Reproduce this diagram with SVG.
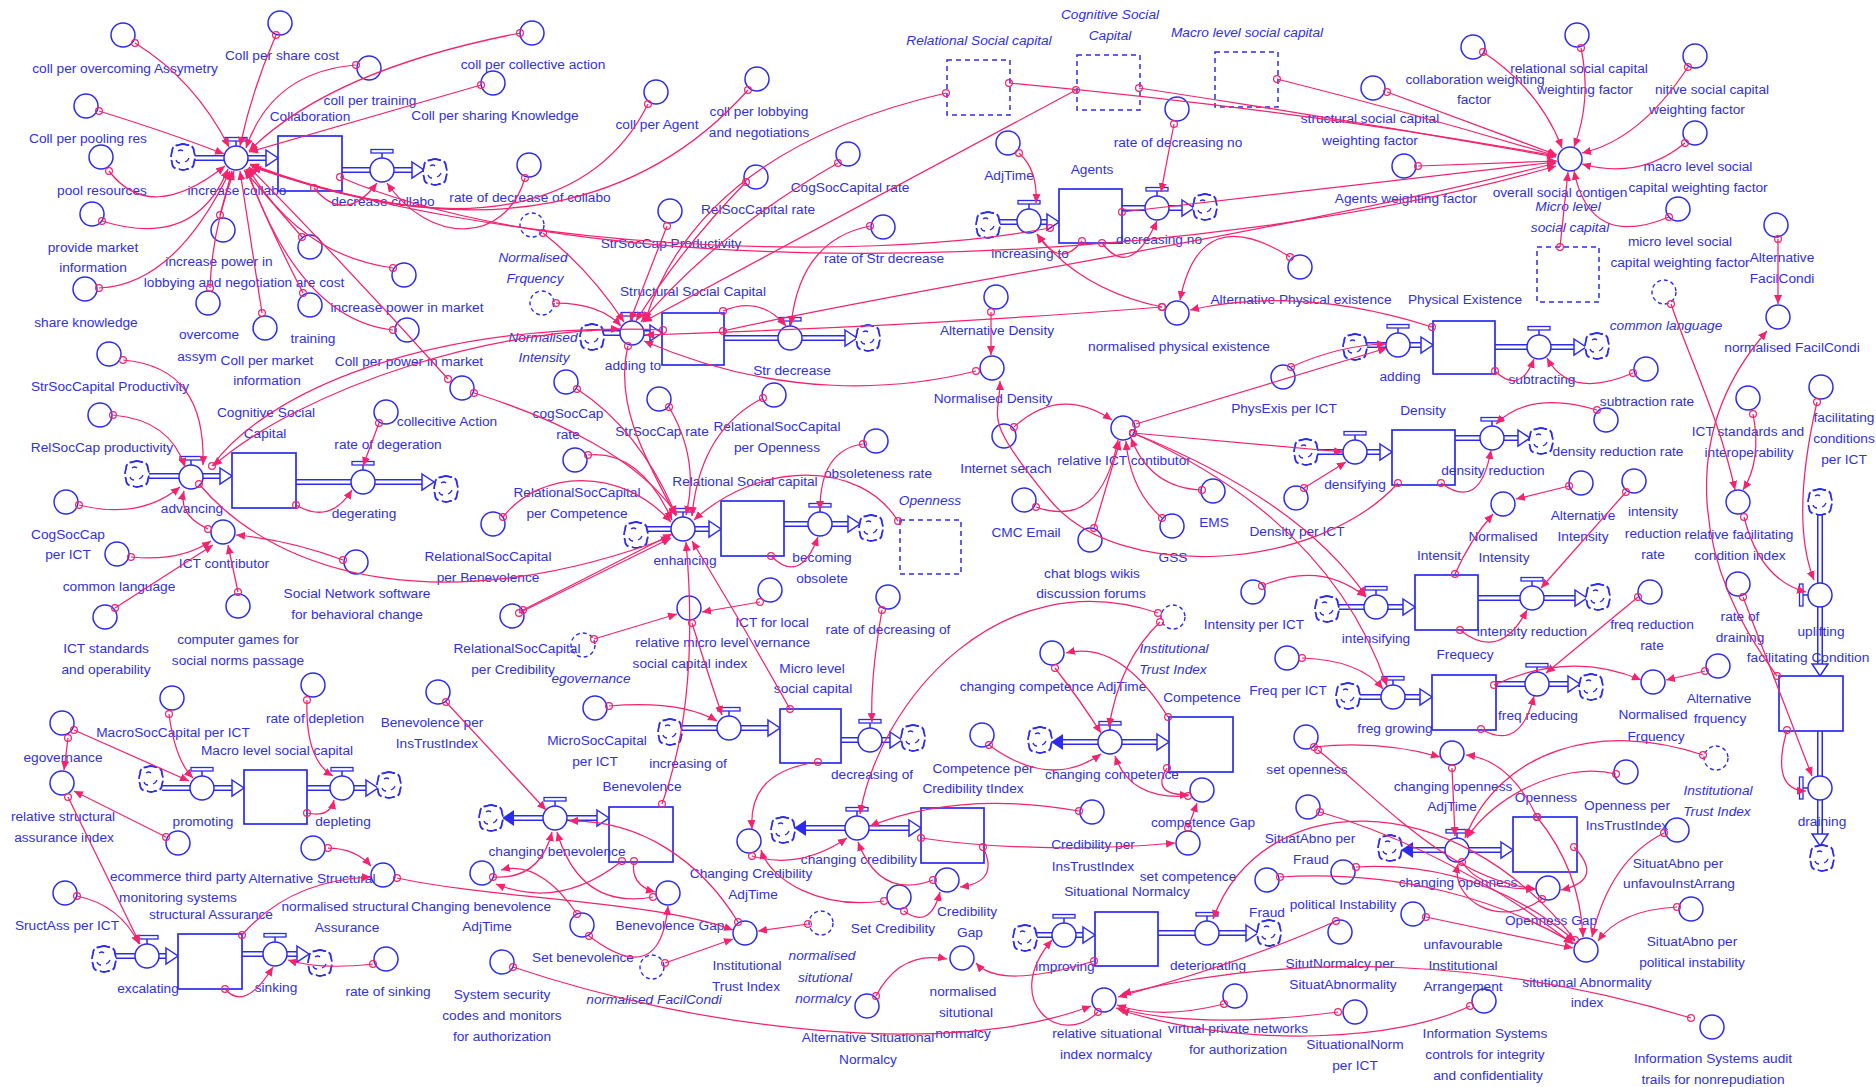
<svg xmlns="http://www.w3.org/2000/svg" width="1876" height="1087" viewBox="0 0 1876 1087">
<style>
.t{font-family:"Liberation Sans",Arial,sans-serif;font-size:13.7px;fill:#3030e2;text-anchor:middle}
.i{font-style:italic}
.c{fill:none;stroke:#2b2bf0;stroke-width:1.5}
.dc{fill:none;stroke:#2b2bf0;stroke-width:1.4;stroke-dasharray:4 3}
.s{fill:#fff;stroke:#2b2bf0;stroke-width:1.7}
.ds{fill:none;stroke:#2b2bf0;stroke-width:1.5;stroke-dasharray:5 4}
.po{stroke:#2b2bf0;stroke-width:6;fill:none}
.pi{stroke:#fff;stroke-width:3;fill:none}
.k path{fill:none;stroke:#f5226e;stroke-width:1.25;marker-start:url(#dt);marker-end:url(#ar)}
</style>
<defs>
<marker id="ar" viewBox="0 0 10 10" refX="10" refY="5" markerWidth="9" markerHeight="9" orient="auto" markerUnits="userSpaceOnUse"><path d="M0,0.5 L10,5 L0,9.5 z" fill="#f5226e"/></marker>
<marker id="dt" viewBox="-6 -6 12 12" refX="0" refY="0" markerWidth="12" markerHeight="12" markerUnits="userSpaceOnUse"><circle r="3.4" fill="none" stroke="#f5226e" stroke-width="1.2"/></marker>
<g id="cl"><path d="M-4,-12 Q0,-14 4,-12 Q11,-12 11,-5 Q13,0 11,5 Q11,12 4,12 Q0,14 -4,12 Q-11,12 -11,5 Q-13,0 -11,-5 Q-11,-12 -4,-12 z" fill="#fff" stroke="#2b2bf0" stroke-width="1.8" stroke-dasharray="10 3"/><path d="M-5,-6 q3,-2 5,0 M6,1 q-1,3 -4,4 M-7,3 q1,3 4,3" fill="none" stroke="#2b2bf0" stroke-width="1.3"/></g>
<g id="vh"><circle r="12" fill="#fff" stroke="#2b2bf0" stroke-width="1.5"/><path d="M0,-12 V-17" stroke="#2b2bf0" stroke-width="1.5"/><rect x="-11" y="-20.5" width="22" height="3.5" fill="#fff" stroke="#2b2bf0" stroke-width="1.3"/></g>
<g id="vv"><circle r="12" fill="#fff" stroke="#2b2bf0" stroke-width="1.5"/><path d="M-12,0 H-17" stroke="#2b2bf0" stroke-width="1.5"/><rect x="-20.5" y="-11" width="3.5" height="22" fill="#fff" stroke="#2b2bf0" stroke-width="1.3"/></g>
<path id="oa" d="M-12,-8 L0,0 L-12,8 z" fill="#fff" stroke="#2b2bf0" stroke-width="1.5"/>
<path id="fa" d="M0,0 L12,-8 L12,8 z" fill="#2b2bf0"/>
</defs>
<rect width="1876" height="1087" fill="#fff"/>

<g id="flows">
<g class="po"><g id="pipes">
<path d="M194 158H268"/><path d="M342 170H414"/><path d="M603 333H650"/><path d="M724 338H845"/>
<path d="M999 222H1047"/><path d="M1122 208H1182"/><path d="M1366 345H1421"/><path d="M1495 347H1574"/>
<path d="M148 476H220"/><path d="M296 482H422"/><path d="M647 529H709"/><path d="M784 524H848"/>
<path d="M1317 452H1380"/><path d="M1455 438H1518"/><path d="M1338 607H1403"/><path d="M1478 598H1575"/>
<path d="M1359 697H1420"/><path d="M1496 684H1568"/><path d="M1820 514V664"/><path d="M1820 731V834"/>
<path d="M162 788H232"/><path d="M307 788H366"/><path d="M115 956H166"/><path d="M242 954H297"/>
<path d="M681 728H768"/><path d="M841 740H890"/><path d="M514 818H597"/><path d="M806 828H909"/>
<path d="M1063 742H1157"/><path d="M1413 850H1501"/><path d="M1036 935H1083"/><path d="M1158 933H1246"/>
</g></g>
<use href="#pipes" class="pi"/>
<use href="#oa" transform="translate(278,158)"/><use href="#oa" transform="translate(424,170)"/>
<use href="#oa" transform="translate(662,333)"/><use href="#oa" transform="translate(857,338)"/>
<use href="#oa" transform="translate(1059,222)"/><use href="#oa" transform="translate(1194,208)"/>
<use href="#oa" transform="translate(1433,345)"/><use href="#oa" transform="translate(1586,347)"/>
<use href="#oa" transform="translate(232,476)"/><use href="#oa" transform="translate(434,482)"/>
<use href="#oa" transform="translate(721,529)"/><use href="#oa" transform="translate(860,524)"/>
<use href="#oa" transform="translate(1392,452)"/><use href="#oa" transform="translate(1530,438)"/>
<use href="#oa" transform="translate(1415,607)"/><use href="#oa" transform="translate(1587,598)"/>
<use href="#oa" transform="translate(1432,697)"/><use href="#oa" transform="translate(1580,684)"/>
<use href="#oa" transform="translate(1820,676) rotate(90)"/><use href="#oa" transform="translate(1820,846) rotate(90)"/>
<use href="#oa" transform="translate(244,788)"/><use href="#oa" transform="translate(378,788)"/>
<use href="#oa" transform="translate(178,956)"/><use href="#oa" transform="translate(309,954)"/>
<use href="#oa" transform="translate(780,728)"/><use href="#oa" transform="translate(902,740)"/>
<use href="#oa" transform="translate(609,818)"/><use href="#oa" transform="translate(921,828)"/>
<use href="#oa" transform="translate(1169,742)"/><use href="#oa" transform="translate(1513,850)"/>
<use href="#oa" transform="translate(1095,935)"/><use href="#oa" transform="translate(1258,933)"/>
<use href="#fa" transform="translate(502,818)"/><use href="#fa" transform="translate(794,828)"/>
<use href="#fa" transform="translate(1051,742)"/><use href="#fa" transform="translate(1401,850)"/>
<use href="#cl" x="183" y="157"/><use href="#cl" x="435" y="172"/><use href="#cl" x="592" y="337"/><use href="#cl" x="868" y="338"/>
<use href="#cl" x="988" y="225"/><use href="#cl" x="1205" y="207"/><use href="#cl" x="1355" y="347"/><use href="#cl" x="1597" y="346"/>
<use href="#cl" x="137" y="474"/><use href="#cl" x="446" y="489"/><use href="#cl" x="636" y="535"/><use href="#cl" x="871" y="528"/>
<use href="#cl" x="1306" y="452"/><use href="#cl" x="1541" y="441"/><use href="#cl" x="1327" y="609"/><use href="#cl" x="1598" y="597"/>
<use href="#cl" x="1348" y="696"/><use href="#cl" x="1591" y="687"/><use href="#cl" x="1820" y="502"/><use href="#cl" x="1822" y="858"/>
<use href="#cl" x="151" y="779"/><use href="#cl" x="389" y="785"/><use href="#cl" x="104" y="959"/><use href="#cl" x="320" y="963"/>
<use href="#cl" x="670" y="732"/><use href="#cl" x="913" y="738"/><use href="#cl" x="491" y="818"/><use href="#cl" x="783" y="830"/>
<use href="#cl" x="1040" y="740"/><use href="#cl" x="1390" y="848"/><use href="#cl" x="1025" y="938"/><use href="#cl" x="1269" y="933"/>
</g>

<!-- stocks -->
<g id="s_collaboration"><rect class="s" x="278" y="136" width="64" height="55"/><text class="t" x="310" y="121">Collaboration</text></g>
<g id="s_structural"><rect class="s" x="662" y="313" width="62" height="52"/><text class="t" x="693" y="296">Structural Social Capital</text></g>
<g id="s_agents"><rect class="s" x="1059" y="189" width="63" height="54"/><text class="t" x="1092" y="174">Agents</text></g>
<g id="s_physical"><rect class="s" x="1433" y="321" width="62" height="53"/><text class="t" x="1465" y="304">Physical Existence</text></g>
<g id="s_cognitive"><rect class="s" x="232" y="453" width="64" height="55"/><text class="t" x="266" y="417">Cognitive Social<tspan x="265" dy="21">Capital</tspan></text></g>
<g id="s_relational"><rect class="s" x="721" y="501" width="63" height="55"/><text class="t" x="745" y="486">Relational Social capital</text></g>
<g id="s_density"><rect class="s" x="1392" y="430" width="63" height="55"/><text class="t" x="1423" y="415">Density</text></g>
<g id="s_intensity"><rect class="s" x="1415" y="575" width="63" height="55"/><text class="t" x="1439" y="560">Intensit</text></g>
<g id="s_frequecy"><rect class="s" x="1432" y="675" width="64" height="55"/><text class="t" x="1465" y="659">Frequecy</text></g>
<g id="s_facilitating"><rect class="s" x="1779" y="676" width="64" height="55"/><text class="t" x="1808" y="662">facilitating Condition</text></g>
<g id="s_macro"><rect class="s" x="244" y="770" width="63" height="54"/><text class="t" x="277" y="755">Macro level social capital</text></g>
<g id="s_structassur"><rect class="s" x="178" y="934" width="64" height="55"/><text class="t" x="211" y="919">structural Assurance</text></g>
<g id="s_micro"><rect class="s" x="780" y="709" width="61" height="54"/><text class="t" x="812" y="673">Micro level<tspan x="813" dy="20">social capital</tspan></text></g>
<g id="s_benevolence"><rect class="s" x="609" y="807" width="64" height="55"/><text class="t" x="642" y="791">Benevolence</text></g>
<g id="s_credibility"><rect class="s" x="921" y="808" width="63" height="55"/></g>
<g id="s_competence"><rect class="s" x="1169" y="717" width="64" height="55"/><text class="t" x="1202" y="702">Competence</text></g>
<g id="s_openness"><rect class="s" x="1513" y="817" width="64" height="55"/><text class="t" x="1546" y="802">Openness</text></g>
<g id="s_situational"><rect class="s" x="1095" y="912" width="63" height="54"/><text class="t" x="1127" y="896">Situational Normalcy</text></g>

<!-- shadow stocks -->
<g id="sh_relational"><rect class="ds" x="947" y="60" width="63" height="55"/><text class="t i" x="979" y="45">Relational Social capital</text></g>
<g id="sh_cognitive"><rect class="ds" x="1077" y="55" width="63" height="55"/><text class="t i" x="1110" y="19">Cognitive Social<tspan x="1110" dy="21">Capital</tspan></text></g>
<g id="sh_macro"><rect class="ds" x="1215" y="52" width="63" height="55"/><text class="t i" x="1247" y="37">Macro level social capital</text></g>
<g id="sh_micro"><rect class="ds" x="1537" y="247" width="62" height="55"/><text class="t i" x="1568" y="211">Micro level<tspan x="1570" dy="21">social capital</tspan></text></g>
<g id="sh_openness"><rect class="ds" x="900" y="520" width="61" height="54"/><text class="t i" x="930" y="505">Openness</text></g>

<!-- valves -->
<g id="v_increase_collabo"><use href="#vh" x="236" y="158"/><text class="t" x="237" y="195">increase collabo</text></g>
<g id="v_decrease_collabo"><use href="#vh" x="382" y="170"/><text class="t" x="383" y="206">decrease collabo</text></g>
<g id="v_adding_to"><use href="#vh" x="632" y="333"/><text class="t" x="633" y="370">adding to</text></g>
<g id="v_str_decrease"><use href="#vh" x="790" y="338"/><text class="t" x="792" y="375">Str decrease</text></g>
<g id="v_increasing_to"><use href="#vh" x="1029" y="221"/><text class="t" x="1030" y="258">increasing to</text></g>
<g id="v_decreasing_no"><use href="#vh" x="1157" y="208"/><text class="t" x="1159" y="244">decreasing no</text></g>
<g id="v_adding"><use href="#vh" x="1398" y="345"/><text class="t" x="1400" y="381">adding</text></g>
<g id="v_subtracting"><use href="#vh" x="1539" y="347"/><text class="t" x="1542" y="384">subtracting</text></g>
<g id="v_advancing"><use href="#vh" x="191" y="477"/><text class="t" x="192" y="513">advancing</text></g>
<g id="v_degerating"><use href="#vh" x="363" y="482"/><text class="t" x="364" y="518">degerating</text></g>
<g id="v_enhancing"><use href="#vh" x="683" y="529"/><text class="t" x="685" y="565">enhancing</text></g>
<g id="v_becoming"><use href="#vh" x="820" y="524"/><text class="t" x="822" y="562">becoming<tspan x="822" dy="21">obsolete</tspan></text></g>
<g id="v_densifying"><use href="#vh" x="1355" y="452"/><text class="t" x="1355" y="489">densifying</text></g>
<g id="v_density_reduction"><use href="#vh" x="1492" y="438"/><text class="t" x="1493" y="475">density reduction</text></g>
<g id="v_intensifying"><use href="#vh" x="1376" y="607"/><text class="t" x="1376" y="643">intensifying</text></g>
<g id="v_intensity_reduction"><use href="#vh" x="1532" y="598"/><text class="t" x="1532" y="636">intensity reduction</text></g>
<g id="v_freg_growing"><use href="#vh" x="1393" y="697"/><text class="t" x="1395" y="733">freg growing</text></g>
<g id="v_freq_reducing"><use href="#vh" x="1537" y="684"/><text class="t" x="1538" y="720">freq reducing</text></g>
<g id="v_uplifting"><use href="#vv" x="1820" y="595"/><text class="t" x="1821" y="636">uplifting</text></g>
<g id="v_draining"><use href="#vv" x="1820" y="788"/><text class="t" x="1822" y="826">draining</text></g>
<g id="v_promoting"><use href="#vh" x="202" y="788"/><text class="t" x="203" y="826">promoting</text></g>
<g id="v_depleting"><use href="#vh" x="342" y="788"/><text class="t" x="343" y="826">depleting</text></g>
<g id="v_excalating"><use href="#vh" x="147" y="956"/><text class="t" x="148" y="993">excalating</text></g>
<g id="v_sinking"><use href="#vh" x="275" y="954"/><text class="t" x="276" y="992">sinking</text></g>
<g id="v_increasing_of"><use href="#vh" x="729" y="728"/><text class="t" x="688" y="768">increasing of</text></g>
<g id="v_decreasing_of"><use href="#vh" x="870" y="740"/><text class="t" x="872" y="779">decreasing of</text></g>
<g id="v_changing_benevolence"><use href="#vh" x="555" y="818"/><text class="t" x="557" y="856">changing benevolence</text></g>
<g id="v_changing_credibility"><use href="#vh" x="857" y="828"/><text class="t" x="859" y="864">changing credibility</text></g>
<g id="v_changing_competence"><use href="#vh" x="1110" y="742"/><text class="t" x="1112" y="779">changing competence</text></g>
<g id="v_changing_openness"><use href="#vh" x="1457" y="850"/><text class="t" x="1458" y="887">changing openness</text></g>
<g id="v_improving"><use href="#vh" x="1064" y="935"/><text class="t" x="1065" y="971">improving</text></g>
<g id="v_deteriorating"><use href="#vh" x="1207" y="933"/><text class="t" x="1208" y="970">deteriorating</text></g>

<!-- auxiliaries -->
<g id="n_coll_overcoming"><circle class="c" cx="123" cy="35" r="12"/><text class="t" x="125" y="73">coll per overcoming Assymetry</text></g>
<g id="n_coll_share_cost"><circle class="c" cx="280" cy="23" r="12"/><text class="t" x="282" y="60">Coll per share cost</text></g>
<g id="n_coll_training"><circle class="c" cx="369" cy="68" r="12"/><text class="t" x="370" y="105">coll per training</text></g>
<g id="n_coll_pooling"><circle class="c" cx="86" cy="106" r="12"/><text class="t" x="88" y="143">Coll per pooling res</text></g>
<g id="n_pool_resources"><circle class="c" cx="101" cy="157" r="12"/><text class="t" x="102" y="195">pool resources</text></g>
<g id="n_provide_market"><circle class="c" cx="92" cy="214" r="12"/><text class="t" x="93" y="252">provide market<tspan x="93" dy="20">information</tspan></text></g>
<g id="n_share_knowledge"><circle class="c" cx="85" cy="289" r="12"/><text class="t" x="86" y="327">share knowledge</text></g>
<g id="n_incr_power_lobby"><circle class="c" cx="223" cy="230" r="12"/><text class="t" x="219" y="266">increase power in<tspan x="218" dy="21">lobbying and negotiation</tspan></text></g>
<g id="n_share_cost"><circle class="c" cx="310" cy="247" r="12"/><text class="t" x="320" y="287">are cost</text></g>
<g id="n_overcome_assym"><circle class="c" cx="208" cy="303" r="12"/><text class="t" x="209" y="339">overcome<tspan x="197" dy="22">assym</tspan></text></g>
<g id="n_training"><circle class="c" cx="310" cy="305" r="12"/><text class="t" x="313" y="343">training</text></g>
<g id="n_coll_market_info"><circle class="c" cx="265" cy="328" r="12"/><text class="t" x="267" y="365">Coll per market<tspan x="267" dy="20">information</tspan></text></g>
<g id="n_incr_power_market"><circle class="c" cx="404" cy="275" r="12"/><text class="t" x="407" y="312">increase power in market</text></g>
<g id="n_coll_power_market"><circle class="c" cx="407" cy="330" r="12"/><text class="t" x="409" y="366">Coll per power in market</text></g>
<g id="n_collecitive_action"><circle class="c" cx="462" cy="388" r="12"/><text class="t" x="447" y="426">collecitive Action</text></g>
<g id="n_coll_collective"><circle class="c" cx="532" cy="33" r="12"/><text class="t" x="533" y="69">coll per collective action</text></g>
<g id="n_coll_sharing"><circle class="c" cx="493" cy="83" r="12"/><text class="t" x="495" y="120">Coll per sharing Knowledge</text></g>
<g id="n_coll_agent"><circle class="c" cx="656" cy="92" r="12"/><text class="t" x="657" y="129">coll per Agent</text></g>
<g id="n_coll_lobbying"><circle class="c" cx="757" cy="79" r="12"/><text class="t" x="759" y="116">coll per lobbying<tspan x="759" dy="21">and negotiations</tspan></text></g>
<g id="n_rate_decr_collabo"><circle class="c" cx="529" cy="165" r="12"/><text class="t" x="530" y="202">rate of decrease of collabo</text></g>
<g id="n_norm_frquency_sh"><circle class="dc" cx="532" cy="225" r="12"/><text class="t i" x="533" y="262">Normalised<tspan x="535" dy="21">Frquency</tspan></text></g>
<g id="n_strsoccap_prod"><circle class="c" cx="670" cy="211" r="12"/><text class="t" x="671" y="248">StrSocCap Productivity</text></g>
<g id="n_relsoccap_rate"><circle class="c" cx="756" cy="177" r="12"/><text class="t" x="758" y="214">RelSocCapital rate</text></g>
<g id="n_cogsoccap_rate"><circle class="c" cx="848" cy="154" r="12"/><text class="t" x="850" y="192">CogSocCapital rate</text></g>
<g id="n_rate_str_decrease"><circle class="c" cx="883" cy="227" r="12"/><text class="t" x="884" y="263">rate of Str decrease</text></g>
<g id="n_norm_intensity_sh"><circle class="dc" cx="542" cy="303" r="12"/><text class="t i" x="543" y="342">Normalised<tspan x="544" dy="20">Intensity</tspan></text></g>
<g id="n_rate_decr_no"><circle class="c" cx="1177" cy="109" r="12"/><text class="t" x="1178" y="147">rate of decreasing no</text></g>
<g id="n_adjtime"><circle class="c" cx="1008" cy="143" r="12"/><text class="t" x="1009" y="180">AdjTime</text></g>
<g id="n_alt_phys"><circle class="c" cx="1300" cy="267" r="12"/><text class="t" x="1301" y="304">Alternative Physical existence</text></g>
<g id="n_norm_phys"><circle class="c" cx="1177" cy="313" r="12"/><text class="t" x="1179" y="351">normalised physical existence</text></g>
<g id="n_alt_density"><circle class="c" cx="996" cy="297" r="12"/><text class="t" x="997" y="335">Alternative Density</text></g>
<g id="n_norm_density"><circle class="c" cx="992" cy="368" r="12"/><text class="t" x="993" y="403">Normalised Density</text></g>
<g id="n_collab_weight"><circle class="c" cx="1473" cy="47" r="12"/><text class="t" x="1475" y="84">collaboration weighting<tspan x="1474" dy="20">factor</tspan></text></g>
<g id="n_rel_weight"><circle class="c" cx="1577" cy="35" r="12"/><text class="t" x="1579" y="73">relational social capital<tspan x="1585" dy="21">weighting factor</tspan></text></g>
<g id="n_cog_weight"><circle class="c" cx="1695" cy="56" r="12"/><text class="t" x="1712" y="94">nitive social capital<tspan x="1697" dy="20">weighting factor</tspan></text></g>
<g id="n_overall"><circle class="c" cx="1570" cy="159" r="12"/><text class="t" x="1560" y="197">overall social contigen</text></g>
<g id="n_macro_weight"><circle class="c" cx="1695" cy="133" r="12"/><text class="t" x="1698" y="171">macro level social<tspan x="1698" dy="21">capital weighting factor</tspan></text></g>
<g id="n_micro_weight"><circle class="c" cx="1678" cy="209" r="12"/><text class="t" x="1680" y="246">micro level social<tspan x="1680" dy="21">capital weighting factor</tspan></text></g>
<g id="n_agents_weight"><circle class="c" cx="1404" cy="166" r="12"/><text class="t" x="1406" y="203">Agents weighting factor</text></g>
<g id="n_struct_weight"><circle class="c" cx="1373" cy="88" r="12"/><text class="t" x="1370" y="123">structural social capital<tspan x="1370" dy="22">weighting factor</tspan></text></g>
<g id="n_alt_facil"><circle class="c" cx="1776" cy="225" r="12"/><text class="t" x="1782" y="262">Alternative<tspan x="1782" dy="21">FacilCondi</tspan></text></g>
<g id="n_norm_facil"><circle class="c" cx="1778" cy="317" r="12"/><text class="t" x="1792" y="352">normalised FacilCondi</text></g>
<g id="n_common_lang_sh"><circle class="dc" cx="1664" cy="292" r="12"/><text class="t i" x="1666" y="330">common language</text></g>
<g id="n_physexis_ict"><circle class="c" cx="1283" cy="377" r="12"/><text class="t" x="1284" y="413">PhysExis per ICT</text></g>
<g id="n_rel_ict"><circle class="c" cx="1123" cy="428" r="12"/><text class="t" x="1124" y="465">relative ICT contibutor</text></g>
<g id="n_internet"><circle class="c" cx="1004" cy="436" r="12"/><text class="t" x="1006" y="473">Internet serach</text></g>
<g id="n_cmc"><circle class="c" cx="1024" cy="500" r="12"/><text class="t" x="1026" y="537">CMC Email</text></g>
<g id="n_chat"><circle class="c" cx="1090" cy="540" r="12"/><text class="t" x="1092" y="578">chat blogs wikis<tspan x="1091" dy="20">discussion forums</tspan></text></g>
<g id="n_gss"><circle class="c" cx="1172" cy="526" r="12"/><text class="t" x="1173" y="562">GSS</text></g>
<g id="n_ems"><circle class="c" cx="1213" cy="491" r="12"/><text class="t" x="1214" y="527">EMS</text></g>
<g id="n_density_ict"><circle class="c" cx="1296" cy="498" r="12"/><text class="t" x="1297" y="536">Density per ICT</text></g>
<g id="n_intensity_ict"><circle class="c" cx="1253" cy="592" r="12"/><text class="t" x="1254" y="629">Intensity per ICT</text></g>
<g id="n_freq_ict"><circle class="c" cx="1287" cy="658" r="12"/><text class="t" x="1288" y="695">Freq per ICT</text></g>
<g id="n_subtraction_rate"><circle class="c" cx="1646" cy="369" r="12"/><text class="t" x="1647" y="406">subtraction rate</text></g>
<g id="n_density_red_rate"><circle class="c" cx="1606" cy="420" r="12"/><text class="t" x="1618" y="456">density reduction rate</text></g>
<g id="n_norm_intensity"><circle class="c" cx="1503" cy="504" r="12"/><text class="t" x="1503" y="541">Normalised<tspan x="1504" dy="21">Intensity</tspan></text></g>
<g id="n_alt_intensity"><circle class="c" cx="1581" cy="483" r="12"/><text class="t" x="1583" y="520">Alternative<tspan x="1583" dy="21">Intensity</tspan></text></g>
<g id="n_int_red_rate"><circle class="c" cx="1634" cy="481" r="12"/><text class="t" x="1653" y="516">intensity<tspan x="1653" dy="22">reduction</tspan><tspan x="1653" dy="21">rate</tspan></text></g>
<g id="n_freq_red_rate"><circle class="c" cx="1650" cy="592" r="12"/><text class="t" x="1652" y="629">freq reduction<tspan x="1652" dy="21">rate</tspan></text></g>
<g id="n_norm_frq"><circle class="c" cx="1653" cy="682" r="12"/><text class="t" x="1653" y="719">Normalised<tspan x="1656" dy="22">Frquency</tspan></text></g>
<g id="n_alt_frq"><circle class="c" cx="1718" cy="666" r="12"/><text class="t" x="1719" y="703">Alternative<tspan x="1720" dy="20">frquency</tspan></text></g>
<g id="n_ict_std_interop"><circle class="c" cx="1748" cy="398" r="12"/><text class="t" x="1748" y="436">ICT standards and<tspan x="1749" dy="21">interoperability</tspan></text></g>
<g id="n_rel_facil"><circle class="c" cx="1738" cy="502" r="12"/><text class="t" x="1739" y="539">relative facilitating<tspan x="1740" dy="21">condition index</tspan></text></g>
<g id="n_rate_draining"><circle class="c" cx="1738" cy="584" r="12"/><text class="t" x="1740" y="621">rate of<tspan x="1740" dy="21">draining</tspan></text></g>
<g id="n_facil_ict"><circle class="c" cx="1821" cy="387" r="12"/><text class="t" x="1844" y="422">facilitating<tspan x="1844" dy="21">conditions</tspan><tspan x="1844" dy="21">per ICT</tspan></text></g>
<g id="n_strsoccapital_prod"><circle class="c" cx="109" cy="354" r="12"/><text class="t" x="110" y="391">StrSocCapital Productivity</text></g>
<g id="n_relsoccap_prod"><circle class="c" cx="100" cy="415" r="12"/><text class="t" x="102" y="452">RelSocCap productivity</text></g>
<g id="n_cogsoccap_ict"><circle class="c" cx="66" cy="502" r="12"/><text class="t" x="68" y="539">CogSocCap<tspan x="68" dy="20">per ICT</tspan></text></g>
<g id="n_common_lang"><circle class="c" cx="117" cy="554" r="12"/><text class="t" x="119" y="591">common language</text></g>
<g id="n_ict_std_oper"><circle class="c" cx="105" cy="617" r="12"/><text class="t" x="106" y="653">ICT standards<tspan x="106" dy="21">and operability</tspan></text></g>
<g id="n_ict_contributor"><circle class="c" cx="223" cy="532" r="12"/><text class="t" x="224" y="568">ICT contributor</text></g>
<g id="n_computer_games"><circle class="c" cx="238" cy="606" r="12"/><text class="t" x="238" y="644">computer games for<tspan x="238" dy="21">social norms passage</tspan></text></g>
<g id="n_social_network"><circle class="c" cx="356" cy="562" r="12"/><text class="t" x="357" y="598">Social Network software<tspan x="357" dy="21">for behavioral change</tspan></text></g>
<g id="n_rate_degeration"><circle class="c" cx="386" cy="412" r="12"/><text class="t" x="388" y="449">rate of degeration</text></g>
<g id="n_cogsoccap_rate2"><circle class="c" cx="566" cy="382" r="12"/><text class="t" x="568" y="418">cogSocCap<tspan x="568" dy="21">rate</tspan></text></g>
<g id="n_strsoccap_rate"><circle class="c" cx="659" cy="399" r="12"/><text class="t" x="662" y="436">StrSocCap rate</text></g>
<g id="n_rel_openness"><circle class="c" cx="774" cy="395" r="12"/><text class="t" x="777" y="431">RelationalSocCapital<tspan x="777" dy="21">per Openness</tspan></text></g>
<g id="n_rel_competence"><circle class="c" cx="575" cy="460" r="12"/><text class="t" x="577" y="497">RelationalSocCapital<tspan x="577" dy="21">per Competence</tspan></text></g>
<g id="n_rel_benevolence"><circle class="c" cx="493" cy="524" r="12"/><text class="t" x="488" y="561">RelationalSocCapital<tspan x="488" dy="21">per Benevolence</tspan></text></g>
<g id="n_obsoleteness"><circle class="c" cx="876" cy="441" r="12"/><text class="t" x="878" y="478">obsoleteness rate</text></g>
<g id="n_rel_credibility"><circle class="c" cx="512" cy="616" r="12"/><text class="t" x="517" y="653">RelationalSocCapital<tspan x="513" dy="21">per Credibility</tspan></text></g>
<g id="n_egov_sh"><circle class="dc" cx="583" cy="645" r="12"/><text class="t i" x="591" y="683">egovernance</text></g>
<g id="n_rel_micro"><circle class="c" cx="689" cy="608" r="12"/><text class="t" x="692" y="647">relative micro level<tspan x="690" dy="21">social capital index</tspan></text></g>
<g id="n_ict_local"><circle class="c" cx="770" cy="590" r="12"/><text class="t" x="772" y="627">ICT for local<tspan x="782" dy="20">vernance</tspan></text></g>
<g id="n_rate_decr_of"><circle class="c" cx="888" cy="597" r="12"/><text class="t" x="888" y="634">rate of decreasing of</text></g>
<g id="n_microsoc_ict"><circle class="c" cx="595" cy="708" r="12"/><text class="t" x="597" y="745">MicroSocCapital<tspan x="595" dy="21">per ICT</tspan></text></g>
<g id="n_benev_ins"><circle class="c" cx="438" cy="692" r="12"/><text class="t" x="432" y="727">Benevolence per<tspan x="437" dy="21">InsTrustIndex</tspan></text></g>
<g id="n_rate_depletion"><circle class="c" cx="313" cy="685" r="12"/><text class="t" x="315" y="723">rate of depletion</text></g>
<g id="n_macrosoc_ict"><circle class="c" cx="172" cy="698" r="12"/><text class="t" x="173" y="737">MacroSocCapital per ICT</text></g>
<g id="n_egovernance"><circle class="c" cx="62" cy="723" r="12"/><text class="t" x="63" y="762">egovernance</text></g>
<g id="n_rel_struct_assur"><circle class="c" cx="62" cy="783" r="12"/><text class="t" x="63" y="821">relative structural<tspan x="64" dy="21">assurance index</tspan></text></g>
<g id="n_ecommerce"><circle class="c" cx="178" cy="843" r="12"/><text class="t" x="178" y="881">ecommerce third party<tspan x="178" dy="21">monitoring systems</tspan></text></g>
<g id="n_structass_ict"><circle class="c" cx="65" cy="893" r="12"/><text class="t" x="67" y="930">SructAss per ICT</text></g>
<g id="n_rate_sinking"><circle class="c" cx="386" cy="959" r="12"/><text class="t" x="388" y="996">rate of sinking</text></g>
<g id="n_alt_structural"><circle class="c" cx="313" cy="848" r="12"/><text class="t" x="312" y="883">Alternative Structural</text></g>
<g id="n_norm_structural"><circle class="c" cx="383" cy="875" r="12"/><text class="t" x="345" y="911">normalised structural<tspan x="347" dy="21">Assurance</tspan></text></g>
<g id="n_chg_benev_adj"><circle class="c" cx="482" cy="873" r="12"/><text class="t" x="481" y="911">Changing benevolence<tspan x="487" dy="20">AdjTime</tspan></text></g>
<g id="n_set_benev"><circle class="c" cx="582" cy="925" r="12"/><text class="t" x="583" y="962">Set benevolence</text></g>
<g id="n_benev_gap"><circle class="c" cx="668" cy="893" r="12"/><text class="t" x="670" y="930">Benevolence Gap</text></g>
<g id="n_norm_facil_sh"><circle class="dc" cx="652" cy="967" r="12"/><text class="t i" x="654" y="1004">normalised FacilCondi</text></g>
<g id="n_iti"><circle class="c" cx="745" cy="933" r="12"/><text class="t" x="747" y="970">Institutional<tspan x="746" dy="21">Trust Index</tspan></text></g>
<g id="n_norm_sit_sh"><circle class="dc" cx="821" cy="923" r="12"/><text class="t i" x="822" y="960">normalised<tspan x="825" dy="22">situtional</tspan><tspan x="823" dy="21">normalcy</tspan></text></g>
<g id="n_sys_security"><circle class="c" cx="502" cy="962" r="12"/><text class="t" x="502" y="999">System security<tspan x="502" dy="21">codes and monitors</tspan><tspan x="502" dy="21">for authorization</tspan></text></g>
<g id="n_chg_cred_adj"><circle class="c" cx="749" cy="841" r="12"/><text class="t" x="751" y="878">Changing Credibility<tspan x="753" dy="21">AdjTime</tspan></text></g>
<g id="n_set_cred"><circle class="c" cx="899" cy="897" r="12"/><text class="t" x="893" y="933">Set Credibility</text></g>
<g id="n_alt_sit"><circle class="c" cx="867" cy="1006" r="12"/><text class="t" x="868" y="1042">Alternative Situational<tspan x="868" dy="22">Normalcy</tspan></text></g>
<g id="n_comp_cred"><circle class="c" cx="982" cy="735" r="12"/><text class="t" x="983" y="773">Competence per<tspan x="973" dy="20">Credibility tIndex</tspan></text></g>
<g id="n_chg_comp_adj"><circle class="c" cx="1052" cy="653" r="12"/><text class="t" x="1053" y="691">changing competence AdjTime</text></g>
<g id="n_iti_sh1"><circle class="dc" cx="1173" cy="617" r="12"/><text class="t i" x="1174" y="653">Institutional<tspan x="1173" dy="21">Trust Index</tspan></text></g>
<g id="n_comp_gap"><circle class="c" cx="1202" cy="790" r="12"/><text class="t" x="1203" y="827">competence Gap</text></g>
<g id="n_cred_ins"><circle class="c" cx="1092" cy="812" r="12"/><text class="t" x="1093" y="849">Credibility per<tspan x="1093" dy="22">InsTrustIndex</tspan></text></g>
<g id="n_set_comp"><circle class="c" cx="1188" cy="843" r="12"/><text class="t" x="1188" y="881">set competence</text></g>
<g id="n_cred_gap"><circle class="c" cx="947" cy="880" r="12"/><text class="t" x="967" y="916">Credibility<tspan x="970" dy="21">Gap</tspan></text></g>
<g id="n_norm_sit"><circle class="c" cx="962" cy="958" r="12"/><text class="t" x="963" y="996">normalised<tspan x="966" dy="21">situtional</tspan><tspan x="963" dy="21">normalcy</tspan></text></g>
<g id="n_rel_sit"><circle class="c" cx="1104" cy="1000" r="12"/><text class="t" x="1107" y="1038">relative situational<tspan x="1106" dy="21">index normalcy</tspan></text></g>
<g id="n_vpn"><circle class="c" cx="1235" cy="996" r="12"/><text class="t" x="1238" y="1033">virtual private networks<tspan x="1238" dy="21">for authorization</tspan></text></g>
<g id="n_sitnorm_ict"><circle class="c" cx="1355" cy="1012" r="12"/><text class="t" x="1355" y="1049">SituationalNorm<tspan x="1355" dy="21">per ICT</tspan></text></g>
<g id="n_set_open"><circle class="c" cx="1306" cy="737" r="12"/><text class="t" x="1307" y="774">set openness</text></g>
<g id="n_abno_fraud"><circle class="c" cx="1308" cy="807" r="12"/><text class="t" x="1310" y="843">SituatAbno per<tspan x="1311" dy="21">Fraud</tspan></text></g>
<g id="n_fraud"><circle class="c" cx="1267" cy="880" r="12"/><text class="t" x="1267" y="917">Fraud</text></g>
<g id="n_pol_instab"><circle class="c" cx="1343" cy="872" r="12"/><text class="t" x="1343" y="909">political Instability</text></g>
<g id="n_sitnorm_abno"><circle class="c" cx="1340" cy="932" r="12"/><text class="t" x="1340" y="968">SitutNormalcy per<tspan x="1343" dy="21">SituatAbnormality</tspan></text></g>
<g id="n_chg_open_adj"><circle class="c" cx="1452" cy="753" r="12"/><text class="t" x="1453" y="791">changing openness<tspan x="1452" dy="20">AdjTime</tspan></text></g>
<g id="n_iti_sh2"><circle class="dc" cx="1716" cy="758" r="12"/><text class="t i" x="1718" y="795">Institutional<tspan x="1717" dy="21">Trust Index</tspan></text></g>
<g id="n_open_ins"><circle class="c" cx="1626" cy="772" r="12"/><text class="t" x="1627" y="810">Openness per<tspan x="1627" dy="20">InsTrustIndex</tspan></text></g>
<g id="n_abno_unfav"><circle class="c" cx="1677" cy="830" r="12"/><text class="t" x="1678" y="868">SituatAbno per<tspan x="1679" dy="20">unfavouInstArrang</tspan></text></g>
<g id="n_open_gap"><circle class="c" cx="1548" cy="888" r="12"/><text class="t" x="1551" y="925">Openness Gap</text></g>
<g id="n_sit_abno_idx"><circle class="c" cx="1586" cy="950" r="12"/><text class="t" x="1587" y="987">situtional Abnormality<tspan x="1587" dy="20">index</tspan></text></g>
<g id="n_abno_pol"><circle class="c" cx="1691" cy="909" r="12"/><text class="t" x="1692" y="946">SituatAbno per<tspan x="1692" dy="21">political instability</tspan></text></g>
<g id="n_unfav"><circle class="c" cx="1413" cy="914" r="12"/><text class="t" x="1463" y="949">unfavourable<tspan x="1463" dy="21">Institutional</tspan><tspan x="1463" dy="21">Arrangement</tspan></text></g>
<g id="n_is_controls"><circle class="c" cx="1484" cy="1001" r="12"/><text class="t" x="1485" y="1038">Information Systems<tspan x="1485" dy="21">controls for integrity</tspan><tspan x="1488" dy="21">and confidentiality</tspan></text></g>
<g id="n_is_audit"><circle class="c" cx="1712" cy="1027" r="12"/><text class="t" x="1713" y="1063">Information Systems audit<tspan x="1713" dy="21">trails for nonrepudiation</tspan></text></g>

<g id="connectors" class="k">
<path d="M135 43 Q195 80 229 147"/><path d="M276 35 Q252 90 240 146"/><path d="M356 65 Q272 72 246 148"/>
<path d="M99 111 Q170 133 224 154"/><path d="M109 171 Q150 225 225 166"/><path d="M102 221 Q195 250 228 169"/>
<path d="M99 288 Q175 285 230 171"/><path d="M220 215 L232 171"/><path d="M210 288 Q212 230 234 171"/>
<path d="M262 313 L240 171"/><path d="M302 237 L244 170"/><path d="M303 293 Q268 225 246 169"/>
<path d="M393 268 Q300 255 248 168"/><path d="M393 330 Q300 320 247 169"/><path d="M448 379 Q350 270 249 167"/>
<path d="M520 33 Q330 70 249 151"/><path d="M481 85 L249 152"/>
<path d="M648 104 C600 200 480 250 250 165"/><path d="M748 90 C650 200 490 255 250 164"/>
<path d="M525 178 C505 245 430 245 387 183"/><path d="M314 188 Q345 225 377 183"/>
<path d="M1050 228 C850 265 500 250 252 167"/><path d="M340 177 C600 290 1200 270 1556 166"/>
<path d="M543 233 Q590 270 624 322"/><path d="M556 303 Q600 303 621 326"/><path d="M667 226 Q650 270 630 321"/>
<path d="M746 182 Q680 250 636 321"/><path d="M838 163 Q720 230 641 322"/><path d="M870 226 Q800 240 791 325"/>
<path d="M723 311 Q760 295 786 326"/><path d="M723 331 C900 290 1300 230 1556 163"/>
<path d="M946 93 Q700 150 645 321"/><path d="M1076 90 L643 322"/>
<path d="M976 371 C900 390 780 400 644 341"/><path d="M1162 307 C1000 320 800 330 645 335"/>
<path d="M212 466 C260 400 400 330 620 329"/><path d="M628 346 C615 400 640 450 676 516"/>
<path d="M663 330 C500 320 300 390 213 466"/>
<path d="M1009 83 Q1300 110 1556 156"/><path d="M1139 88 Q1350 120 1556 157"/><path d="M1277 79 Q1420 115 1556 156"/>
<path d="M1387 92 L1557 155"/><path d="M1483 52 Q1540 90 1562 148"/><path d="M1581 48 Q1592 100 1574 147"/>
<path d="M1688 67 Q1640 140 1582 153"/><path d="M1685 143 Q1640 180 1582 164"/><path d="M1669 217 Q1590 250 1574 171"/>
<path d="M1560 247 L1568 172"/><path d="M1418 166 L1557 161"/><path d="M1122 212 L1556 162"/>
<path d="M1019 153 Q1038 170 1036 203"/><path d="M1174 124 L1161 192"/><path d="M1082 241 Q1060 270 1037 234"/>
<path d="M1102 243 Q1130 280 1157 221"/><path d="M1162 307 Q1080 290 1037 234"/><path d="M1290 257 Q1200 200 1180 300"/>
<path d="M1432 327 Q1300 285 1190 310"/>
<path d="M1291 367 Q1340 345 1386 344"/><path d="M1136 424 L1387 348"/><path d="M1495 371 Q1520 395 1534 359"/>
<path d="M1633 373 Q1570 400 1547 358"/>
<path d="M1014 427 Q1060 385 1112 420"/><path d="M1036 507 Q1100 530 1118 440"/><path d="M1094 528 L1120 441"/>
<path d="M1162 518 Q1130 490 1126 441"/><path d="M1202 490 Q1150 488 1131 438"/><path d="M1133 433 L1343 452"/>
<path d="M1133 433 Q1300 500 1366 596"/><path d="M1133 433 Q1330 520 1387 686"/><path d="M1304 488 L1346 462"/>
<path d="M1262 586 Q1320 560 1366 597"/><path d="M1302 658 Q1360 660 1383 689"/>
<path d="M1398 483 C1320 570 1120 585 1050 500 S1000 420 1000 381"/><path d="M991 312 L991 355"/>
<path d="M1597 410 Q1530 390 1496 424"/><path d="M1441 483 Q1480 512 1491 450"/><path d="M1455 574 Q1470 540 1493 514"/>
<path d="M1569 486 L1516 499"/><path d="M1626 492 L1541 588"/><path d="M1460 630 Q1500 662 1527 610"/>
<path d="M1638 597 L1546 673"/><path d="M1494 685 Q1570 650 1641 680"/><path d="M1705 671 L1666 680"/>
<path d="M1481 729 Q1520 752 1534 696"/>
<path d="M1753 414 Q1762 460 1743 490"/><path d="M1671 304 C1690 360 1720 420 1735 490"/><path d="M1778 239 L1778 304"/>
<path d="M1777 676 C1690 560 1680 430 1767 331"/><path d="M1744 517 Q1760 580 1806 592"/><path d="M1817 402 Q1790 520 1814 580"/>
<path d="M1743 597 L1812 776"/><path d="M1787 730 Q1770 790 1806 791"/>
<path d="M123 360 C180 365 205 400 203 465"/><path d="M113 415 Q170 420 185 467"/><path d="M79 505 Q140 520 180 487"/>
<path d="M208 529 Q178 515 184 491"/><path d="M131 557 Q180 562 211 541"/><path d="M115 608 L213 545"/>
<path d="M238 592 L228 545"/><path d="M343 560 Q290 540 236 535"/><path d="M296 505 Q330 525 352 490"/>
<path d="M379 423 L363 466"/><path d="M199 484 C280 580 450 620 670 537"/><path d="M474 393 C560 420 640 460 677 515"/>
<path d="M577 389 Q640 430 676 515"/><path d="M669 407 Q700 460 686 515"/><path d="M763 398 Q700 430 692 516"/>
<path d="M588 455 Q640 450 672 520"/><path d="M503 517 C540 470 620 465 671 522"/><path d="M523 610 L672 534"/>
<path d="M519 613 L671 538"/><path d="M863 444 Q820 450 820 510"/><path d="M771 556 Q800 585 818 537"/>
<path d="M898 521 C860 460 760 460 694 520"/><path d="M760 602 L702 612"/><path d="M594 639 L677 614"/>
<path d="M692 623 Q710 680 722 715"/><path d="M790 709 Q740 620 692 541"/><path d="M662 804 Q700 700 686 542"/>
<path d="M609 706 Q680 700 717 721"/><path d="M882 610 Q870 680 872 722"/><path d="M818 762 C760 770 750 800 752 829"/>
<path d="M446 702 L546 810"/><path d="M493 877 Q540 880 552 832"/><path d="M577 914 Q540 860 501 870"/>
<path d="M622 861 Q560 910 496 884"/><path d="M653 897 Q580 910 557 832"/><path d="M634 861 Q630 885 655 892"/>
<path d="M589 936 Q660 990 668 906"/><path d="M738 922 C700 860 640 820 569 821"/><path d="M665 963 L733 939"/>
<path d="M808 924 L758 931"/><path d="M397 878 C500 900 650 900 733 930"/>
<path d="M752 856 Q800 870 847 838"/><path d="M884 901 C820 910 770 880 761 850"/><path d="M933 880 Q880 900 858 842"/>
<path d="M1079 811 Q960 790 870 826"/><path d="M983 847 Q1000 882 960 887"/><path d="M904 911 Q930 930 940 892"/>
<path d="M1158 613 C1000 560 880 700 860 814"/><path d="M989 745 Q1050 790 1101 754"/><path d="M1055 668 Q1080 700 1101 733"/>
<path d="M1160 622 Q1120 660 1109 727"/><path d="M1168 717 Q1120 640 1066 653"/><path d="M1188 796 Q1130 800 1115 756"/>
<path d="M1188 828 L1197 803"/><path d="M1167 768 Q1150 795 1189 795"/><path d="M921 838 C1000 850 1100 850 1175 843"/>
<path d="M1098 1012 C1060 1050 1000 1000 1052 940"/><path d="M1094 961 Q1000 990 976 963"/><path d="M876 996 Q900 950 947 959"/>
<path d="M513 967 C700 1030 950 1060 1091 1006"/><path d="M1224 1004 Q1160 1020 1117 1005"/><path d="M1336 921 Q1250 960 1118 997"/>
<path d="M1338 1012 Q1200 1030 1116 1008"/><path d="M1470 1006 C1400 1040 1250 1050 1120 1010"/>
<path d="M1691 1018 C1500 960 1300 950 1122 994"/><path d="M1575 940 C1450 780 1260 790 1213 919"/>
<path d="M1280 877 C1400 870 1500 900 1573 943"/><path d="M1356 867 Q1480 860 1575 941"/><path d="M1320 812 Q1450 850 1573 944"/>
<path d="M1426 917 L1573 948"/><path d="M1664 833 Q1610 860 1592 937"/><path d="M1677 907 Q1620 910 1598 941"/>
<path d="M1314 747 Q1380 740 1440 757"/><path d="M1318 750 C1380 800 1450 880 1536 889"/><path d="M1452 768 L1455 836"/>
<path d="M1537 817 Q1510 760 1466 755"/><path d="M1616 774 C1560 760 1490 800 1467 838"/><path d="M1703 755 C1600 720 1500 750 1465 838"/>
<path d="M1574 847 Q1605 880 1561 890"/><path d="M1462 862 Q1480 890 1535 889"/><path d="M1542 899 C1500 930 1450 900 1458 864"/>
<path d="M1537 817 Q1580 870 1583 937"/>
<path d="M169 714 Q175 760 193 778"/><path d="M74 730 L189 781"/><path d="M68 738 L64 770"/>
<path d="M307 700 Q305 760 333 776"/><path d="M307 813 Q330 818 334 800"/><path d="M166 837 L74 791"/>
<path d="M68 797 L140 944"/><path d="M77 896 Q120 905 139 944"/><path d="M328 848 Q355 848 371 866"/>
<path d="M242 935 Q290 880 371 877"/><path d="M225 989 Q245 1012 273 967"/><path d="M373 964 Q320 970 288 960"/>
</g>
</svg>
